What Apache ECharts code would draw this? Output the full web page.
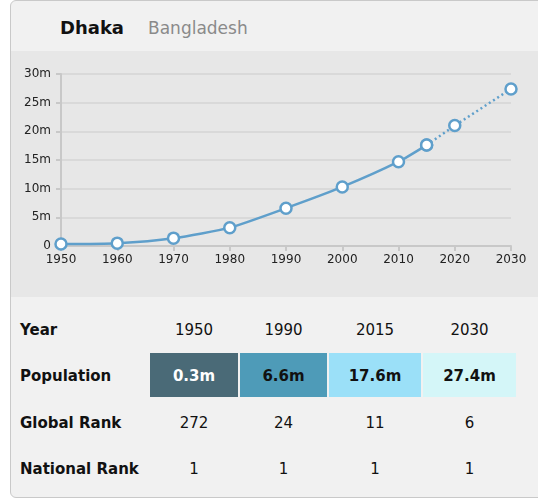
<!DOCTYPE html>
<html>
<head>
<meta charset="utf-8">
<script src="https://cdn.jsdelivr.net/npm/echarts@6/dist/echarts.min.js"></script>
<style>
    body { margin: 0; background: #fff; font-family: "DejaVu Sans", sans-serif; }
    #panel {
        position: absolute; left: 10px; top: 0; width: 545px; height: 496px;
        border: 1px solid #c9c9c9; border-radius: 6px; background: #f1f1f1; overflow: hidden;
    }
    #title { position: absolute; left: 49px; top: 16px; font-size: 18px; white-space: nowrap; }
    #title b { color: #111; }
    #title span { color: #8a8a8a; font-size: 17px; margin-left: 24px; }
    #pop-chart { position: absolute; left: 0; top: 50px; width: 528px; height: 246px; background: #e7e7e7; }
    .row-label { position: absolute; left: 9px; font-weight: bold; font-size: 15px; color: #111; }
    .cell { position: absolute; text-align: center; font-size: 15px; color: #111; }
</style>
</head>
<body>
<div id="panel">
    <div id="title"><b>Dhaka</b><span>Bangladesh</span></div>
    <div id="pop-chart"></div>
    <div id="table"></div>
</div>
<script>
// 人口数据 (百万)
const years = [1950, 1960, 1970, 1980, 1990, 2000, 2010, 2015, 2020, 2030];
const population = [0.34, 0.5, 1.37, 3.2, 6.6, 10.3, 14.7, 17.6, 21.0, 27.4];
const lastActualYear = 2015;
const yTicks = [0, 5, 10, 15, 20, 25, 30];

// 表格数据
const tableYears = ['1950', '1990', '2015', '2030'];
const tablePopulation = ['0.3m', '6.6m', '17.6m', '27.4m'];
const globalRank = ['272', '24', '11', '6'];
const nationalRank = ['1', '1', '1', '1'];
const popColors = ['#4a6a77', '#4e9bb8', '#9be0f8', '#d4f6f8'];
const popTextColors = ['#ffffff', '#111111', '#111111', '#111111'];

let popChart;

function init() {
    initChart();
    buildTable();
}

// 折线图
function initChart() {
    popChart = echarts.init(document.getElementById('pop-chart'));

    const pairs = years.map((y, i) => [y, population[i]]);
    const actual = pairs.filter(p => p[0] <= lastActualYear);
    const projected = pairs.filter(p => p[0] >= lastActualYear);

    const lineColor = '#5f9fcb';
    const pointStyle = {
        color: '#ffffff',
        borderColor: lineColor,
        borderWidth: 2.5
    };

    const option = {
        animation: false,
        grid: { left: 50, right: 28, top: 23, bottom: 51 },
        xAxis: {
            type: 'value',
            min: 1950,
            max: 2030,
            interval: 10,
            axisLine: { lineStyle: { color: '#c8c8c8', width: 2 } },
            axisTick: { show: true, length: 5, lineStyle: { color: '#c8c8c8', width: 2 } },
            axisLabel: {
                color: '#222', fontSize: 12, fontFamily: 'DejaVu Sans', margin: 8,
                formatter: v => String(v)
            },
            splitLine: { show: false }
        },
        yAxis: {
            type: 'value',
            min: yTicks[0],
            max: yTicks[yTicks.length - 1],
            interval: 5,
            axisLine: { show: true, lineStyle: { color: '#c8c8c8', width: 2 } },
            axisTick: { show: true, length: 5, lineStyle: { color: '#c8c8c8', width: 2 } },
            axisLabel: {
                color: '#222', fontSize: 12, fontFamily: 'DejaVu Sans', margin: 10,
                formatter: v => v === 0 ? '0' : v + 'm'
            },
            splitLine: { lineStyle: { color: '#d9d9d9', width: 2 } }
        },
        series: [
            {
                name: 'projected',
                type: 'line',
                data: projected,
                symbol: 'circle',
                symbolSize: 11,
                itemStyle: pointStyle,
                lineStyle: { color: lineColor, width: 2.5, type: [2, 3] },
                z: 2
            },
            {
                name: 'actual',
                type: 'line',
                data: actual,
                smooth: 0.2,
                symbol: 'circle',
                symbolSize: 11,
                itemStyle: pointStyle,
                lineStyle: { color: lineColor, width: 2.5 },
                z: 3
            }
        ]
    };

    popChart.setOption(option);
}

// 表格
function buildTable() {
    const table = document.getElementById('table');
    const colLeft = [139, 229, 318, 412];
    const colWidth = [88, 87, 92, 93];
    const rows = [
        { label: 'Year', values: tableYears, top: 320 },
        { label: 'Population', values: tablePopulation, top: 366 },
        { label: 'Global Rank', values: globalRank, top: 413 },
        { label: 'National Rank', values: nationalRank, top: 459 }
    ];

    rows.forEach(function(row, r) {
        const lab = document.createElement('div');
        lab.className = 'row-label';
        lab.textContent = row.label;
        lab.style.top = row.top + 'px';
        table.appendChild(lab);

        row.values.forEach(function(v, i) {
            const c = document.createElement('div');
            c.className = 'cell';
            c.textContent = v;
            c.style.left = colLeft[i] + 'px';
            c.style.width = colWidth[i] + 'px';
            if (row.label === 'Population') {
                c.style.top = '352px';
                c.style.height = '44px';
                c.style.lineHeight = '46px';
                c.style.fontWeight = 'bold';
                c.style.background = popColors[i];
                c.style.color = popTextColors[i];
            } else {
                c.style.top = row.top + 'px';
            }
            table.appendChild(c);
        });
    });
}

window.addEventListener('DOMContentLoaded', init);
</script>
</body>
</html>
